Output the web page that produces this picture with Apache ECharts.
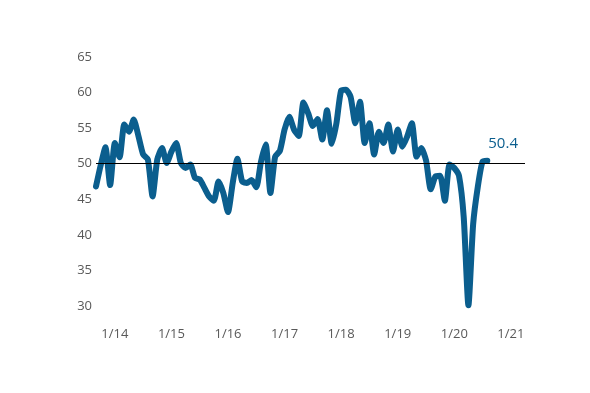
<!DOCTYPE html>
<html>
<head>
<meta charset="utf-8">
<script src="https://cdn.jsdelivr.net/npm/echarts@6/dist/echarts.min.js"></script>
<style>html,body{margin:0;padding:0;background:#fff;}#c{width:590px;height:393px;}</style>
</head>
<body>
<div id="c"></div>
<script>
// Months from Sep 2013 to Apr 2021 (axis extent), labels as "M/YY"
const months = [];
for (let y = 2013, m = 9; y < 2021 || (y === 2021 && m <= 4); ) {
  months.push(m + '/' + String(y).slice(2));
  m++; if (m > 12) { m = 1; y++; }
}
// Index values, Sep 2013 .. Aug 2020
const values = [
  46.8, 49.8, 52.3, 47.0,
  52.9, 50.9, 55.5, 54.5, 56.2, 53.9, 51.3, 50.6, 45.4, 50.6, 52.2, 50.1,
  51.7, 52.9, 50.1, 49.4, 49.9, 48.0, 47.8, 46.6, 45.4, 44.8, 47.5, 45.9,
  43.2, 47.3, 50.7, 47.5, 47.3, 47.7, 46.7, 50.3, 52.7, 45.9, 51.0, 51.8,
  54.8, 56.6, 54.8, 53.9, 58.6, 57.1, 55.3, 56.3, 53.4, 57.5, 52.8, 55.7,
  60.3, 60.4, 59.4, 55.7, 58.7, 52.9, 55.7, 51.3, 54.5, 52.9, 55.5, 51.7,
  54.8, 52.4, 53.8, 55.7, 51.0, 52.2, 50.5, 46.4, 48.2, 48.3, 44.8, 49.9,
  49.4, 48.3, 42.5, 30.1, 41.5, 46.8, 50.3, 50.4
];
const yTicks = [30, 35, 40, 45, 50, 55, 60, 65];
const refLevel = 50;
const lastLabel = '50.4';

const blue = '#0b5e8e';

const chart = echarts.init(document.getElementById('c'), null, { renderer: 'canvas' });
chart.setOption({
  animation: false,
  backgroundColor: '#fff',
  grid: { left: 96, right: 65, top: 57, bottom: 87 },
  xAxis: {
    type: 'category',
    data: months,
    boundaryGap: false,
    axisLine: { show: false },
    axisTick: { show: false },
    axisLabel: {
      interval: (i, v) => v.startsWith('1/'),
      color: '#595959', fontSize: 13, fontFamily: 'Open Sans', margin: 22
    }
  },
  yAxis: {
    type: 'value',
    min: yTicks[0], max: yTicks[yTicks.length - 1], interval: 5,
    splitLine: { show: false },
    axisLine: { show: false },
    axisTick: { show: false },
    axisLabel: { color: '#595959', fontSize: 13, fontFamily: 'Open Sans', margin: 4 }
  },
  series: [{
    type: 'line',
    data: values,
    showSymbol: false,
    symbol: 'none',
    smooth: 0.2,
    lineStyle: { color: blue, width: 6, cap: 'round', join: 'round' },
    endLabel: {
      show: true,
      formatter: lastLabel,
      color: blue, fontSize: 15, fontFamily: 'Open Sans',
      distance: 0,
      offset: [1, -17]
    },
    markLine: {
      silent: true,
      symbol: ['none', 'none'],
      label: { show: false },
      lineStyle: { color: '#000', width: 1, type: 'solid' },
      data: [{ yAxis: refLevel }]
    },
    z: 3
  }]
});
</script>
</body>
</html>
